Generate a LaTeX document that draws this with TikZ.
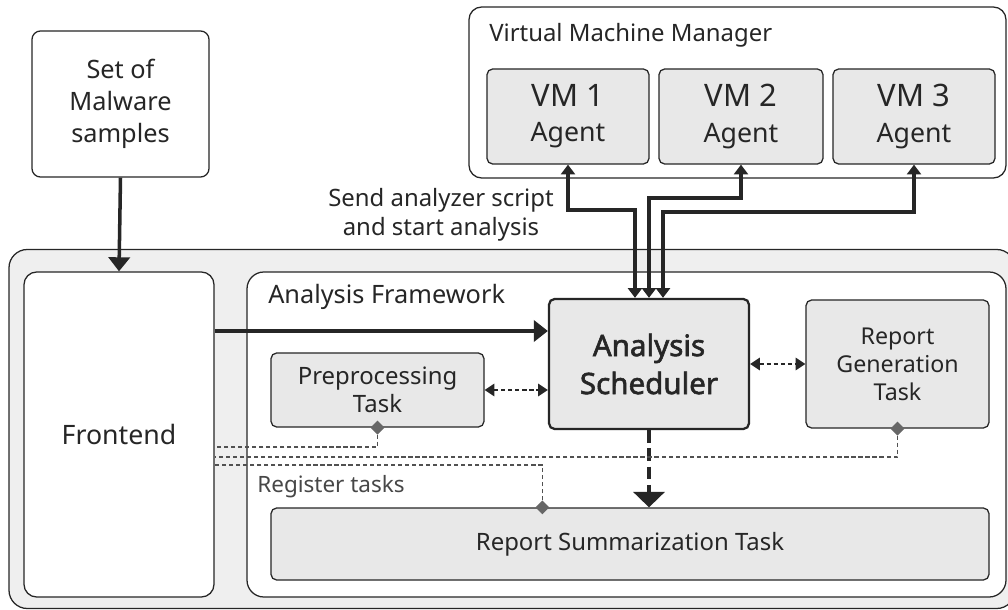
\documentclass[tikz,border=0pt]{standalone}
\usepackage{fontspec}
\setmainfont{Noto Sans}[AutoFakeBold=2]
\usetikzlibrary{arrows.meta,shapes.geometric,calc}
\newcommand\pxu{0.025cm}
\definecolor{ink}{HTML}{262626}
\definecolor{boxfill}{HTML}{E8E8E8}
\definecolor{bandfill}{HTML}{EFEFEF}
\tikzset{
  sz/.style 2 args={minimum width=#1*\pxu,minimum height=#2*\pxu},
  plain/.style={draw=ink,line width=0.9pt,rounded corners=6pt,fill=white,inner sep=0pt,align=center,text=ink},
  task/.style={plain,fill=boxfill,rounded corners=4pt},
  lbl/.style={inner sep=0pt,text=ink,align=center},
  flow/.style={draw=ink,line width=2.5pt,-{Triangle[length=10pt,width=15pt]}},
  link/.style={draw=ink,line width=2.4pt,{Triangle[length=7pt,width=10pt]}-{Triangle[length=7pt,width=10pt]}},
  ask/.style={draw=ink,line width=0.9pt,dash pattern=on 3pt off 2pt,{Triangle[length=7pt,width=9pt]}-{Triangle[length=7pt,width=9pt]}},
  reg/.style={draw=ink!80,line width=0.8pt,dash pattern=on 3pt off 2pt},
  dmd/.style={diamond,fill=ink!70,inner sep=0pt,minimum size=10pt},
}
\newcommand\fs[2]{\fontsize{#1}{#2}\selectfont}
\begin{document}
\begin{tikzpicture}[x=\pxu,y=-\pxu]
    \useasboundingbox (0,0) rectangle (1008,610);
    % sample set and virtual machines
    \node[plain,sz={177}{146},font=\fs{18}{23}] (mal) at (120.5,104) {Set of\\Malware\\samples};
    \node[plain,sz={537}{171},rounded corners=9pt] (vmm) at (737.5,92.5) {};
    \node[lbl,anchor=west,font=\fs{17}{20}] (vmmlbl) at (489,35) {Virtual Machine Manager};
    \node[task,sz={162}{95},font=\fs{22}{25}] (vm1) at (568,116.5) {VM 1\\\fs{19}{25}Agent};
    \node[task,sz={164}{95},font=\fs{22}{25}] (vm2) at (741,116.5) {VM 2\\\fs{19}{25}Agent};
    \node[task,sz={162}{95},font=\fs{22}{25}] (vm3) at (914,116.5) {VM 3\\\fs{19}{25}Agent};
    % host with frontend and framework
    \node[plain,fill=bandfill,sz={1006}{359},rounded corners=13pt] (host) at (512,429) {};
    \node[plain,sz={190}{325},rounded corners=9pt,font=\fs{19}{23}] (fe) at (119,434.5) {Frontend};
    \node[plain,sz={759}{325},rounded corners=12pt] (af) at (626.5,434.5) {};
    \node[lbl,anchor=west,font=\fs{18}{22}] (aflbl) at (268,297) {Analysis Framework};
    \node[task,sz={200}{130},line width=1.6pt,font=\bfseries\fs{21}{27}] (sch) at (649,364) {Analysis\\Scheduler};
    \node[task,sz={183}{128},font=\fs{16.5}{20}] (rg) at (897.5,364) {Report\\Generation\\Task};
    \node[task,sz={213}{74},font=\fs{17}{20}] (pre) at (377.5,390) {Preprocessing\\Task};
    \node[task,sz={718}{72},font=\fs{17}{20}] (rs) at (630,544) {Report Summarization Task};
    \node[lbl,font=\fs{16}{20},text=ink!85] (regl) at (331,487) {Register tasks};
    \node[lbl,font=\fs{17}{21}] (sendl) at (441,215) {Send analyzer script\\and start analysis};
    \coordinate (in1) at ($(sch.north)+(-14,0)$);
    \coordinate (in3) at ($(sch.north)+(14,0)$);
    \coordinate (tap) at ($(rs.north west)+(272,0)$);
    % connectors
    \draw[flow] (mal.south) -- (fe.north);
    \draw[flow] (fe.east |- 0,331) -- (sch.west |- 0,331);
    \draw[link] (vm1.south) |- (in1 |- 0,210) -- (in1);
    \draw[link] (vm2.south) |- (sch.north |- 0,198) -- (sch.north);
    \draw[link] (vm3.south) |- (in3 |- 0,212) -- (in3);
    \draw[ask] (pre.east) -- (sch.west |- pre.east);
    \draw[ask] (sch.east) -- (rg.west);
    \draw[ink,line width=3.2pt,dash pattern=on 9pt off 4pt,-{Triangle[length=11pt,width=22pt]}] (sch.south) -- (rs.north -| sch.south);
    % task registration
    \draw[reg] (pre.south) |- (fe.east |- 0,447);
    \draw[reg] (rg.south) |- (fe.east |- 0,457);
    \draw[reg] (tap) |- (fe.east |- 0,465);
    \node[dmd] (d1) at (pre.south) {};
    \node[dmd] (d2) at (rg.south) {};
    \node[dmd] (d3) at (tap) {};
\end{tikzpicture}
\end{document}
